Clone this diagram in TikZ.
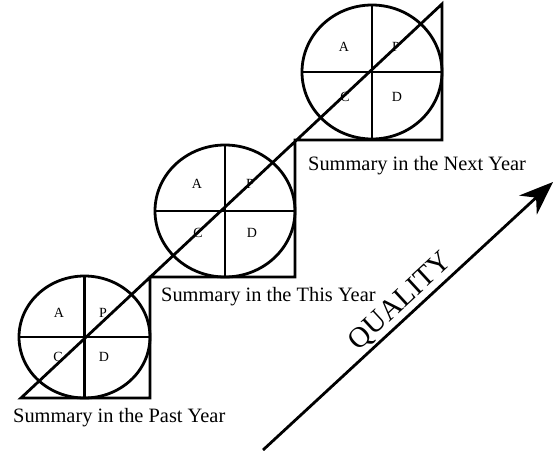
\documentclass[tikz,border=0pt]{standalone}
\usepackage{fontspec}
\setmainfont{Liberation Serif}
\usetikzlibrary{arrows.meta,calc}
\begin{document}
\begin{tikzpicture}[x=1pt,y=-1pt,
  thick line/.style={line width=2.8pt,line join=miter},
  quad/.style={font=\fontsize{14}{16}\selectfont,inner sep=0pt},
  caption/.style={font=\fontsize{20.4}{24}\selectfont,anchor=base west,inner sep=0pt},
  qualitytext/.style={font=\fontsize{29}{32}\selectfont,inner sep=0pt,rotate=42.7}]
\useasboundingbox (0,0) rectangle (554,450);
% staircase
\coordinate (s0) at (21,398);
\coordinate (s1) at (150,398);
\coordinate (s2) at (150,277);
\coordinate (s3) at (295,277);
\coordinate (s4) at (295,140);
\coordinate (s5) at (442,140);
\coordinate (s6) at (442,4);
% letters
\foreach \n/\cx/\cy/\ax/\ay/\px/\cxx/\cyy/\dx in
  {1/84.5/337/59/313/103/58/357/104,
   2/225/211/197/184/250/198/233/252,
   3/372/72/344/47/396/345/97/397}{
  \node[quad] (A\n) at (\ax,\ay) {A};
  \node[quad] (P\n) at (\px,\ay) {P};
  \node[quad] (C\n) at (\cxx,\cyy) {C};
  \node[quad] (D\n) at (\dx,\cyy) {D};
}
% circles with cross lines
\foreach \n/\cx/\cy/\rx/\ry in {1/84.5/337/65.5/61, 2/225/211/70/66, 3/372/72/70/67}{
  \coordinate (o\n) at (\cx,\cy);
  \draw[thick line] (o\n) ellipse ({\rx} and {\ry});
  \draw[thick line] ($(o\n)+(0,-\ry)$) -- ($(o\n)+(0,\ry)$);
  \draw[thick line] ($(o\n)+(-\rx,0)$) -- ($(o\n)+(\rx,0)$);
}
\draw[thick line] (s0) -- (s1) -- (s2) -- (s3) -- (s4) -- (s5) -- (s6) -- cycle;
% captions
\node[caption] (past) at (13,422) {Summary in the Past Year};
\node[caption] (this) at (161,301) {Summary in the This Year};
\node[caption] (next) at (308,170) {Summary in the Next Year};
% quality arrow
\coordinate (qs) at (263,450);
\coordinate (qe) at (553,182);
\draw[line width=2.8pt,-{Stealth[length=34pt,width=26pt,inset=11pt]}] (qs) -- (qe);
\node[qualitytext] (quality) at (401,302) {QUALITY};
\end{tikzpicture}
\end{document}
